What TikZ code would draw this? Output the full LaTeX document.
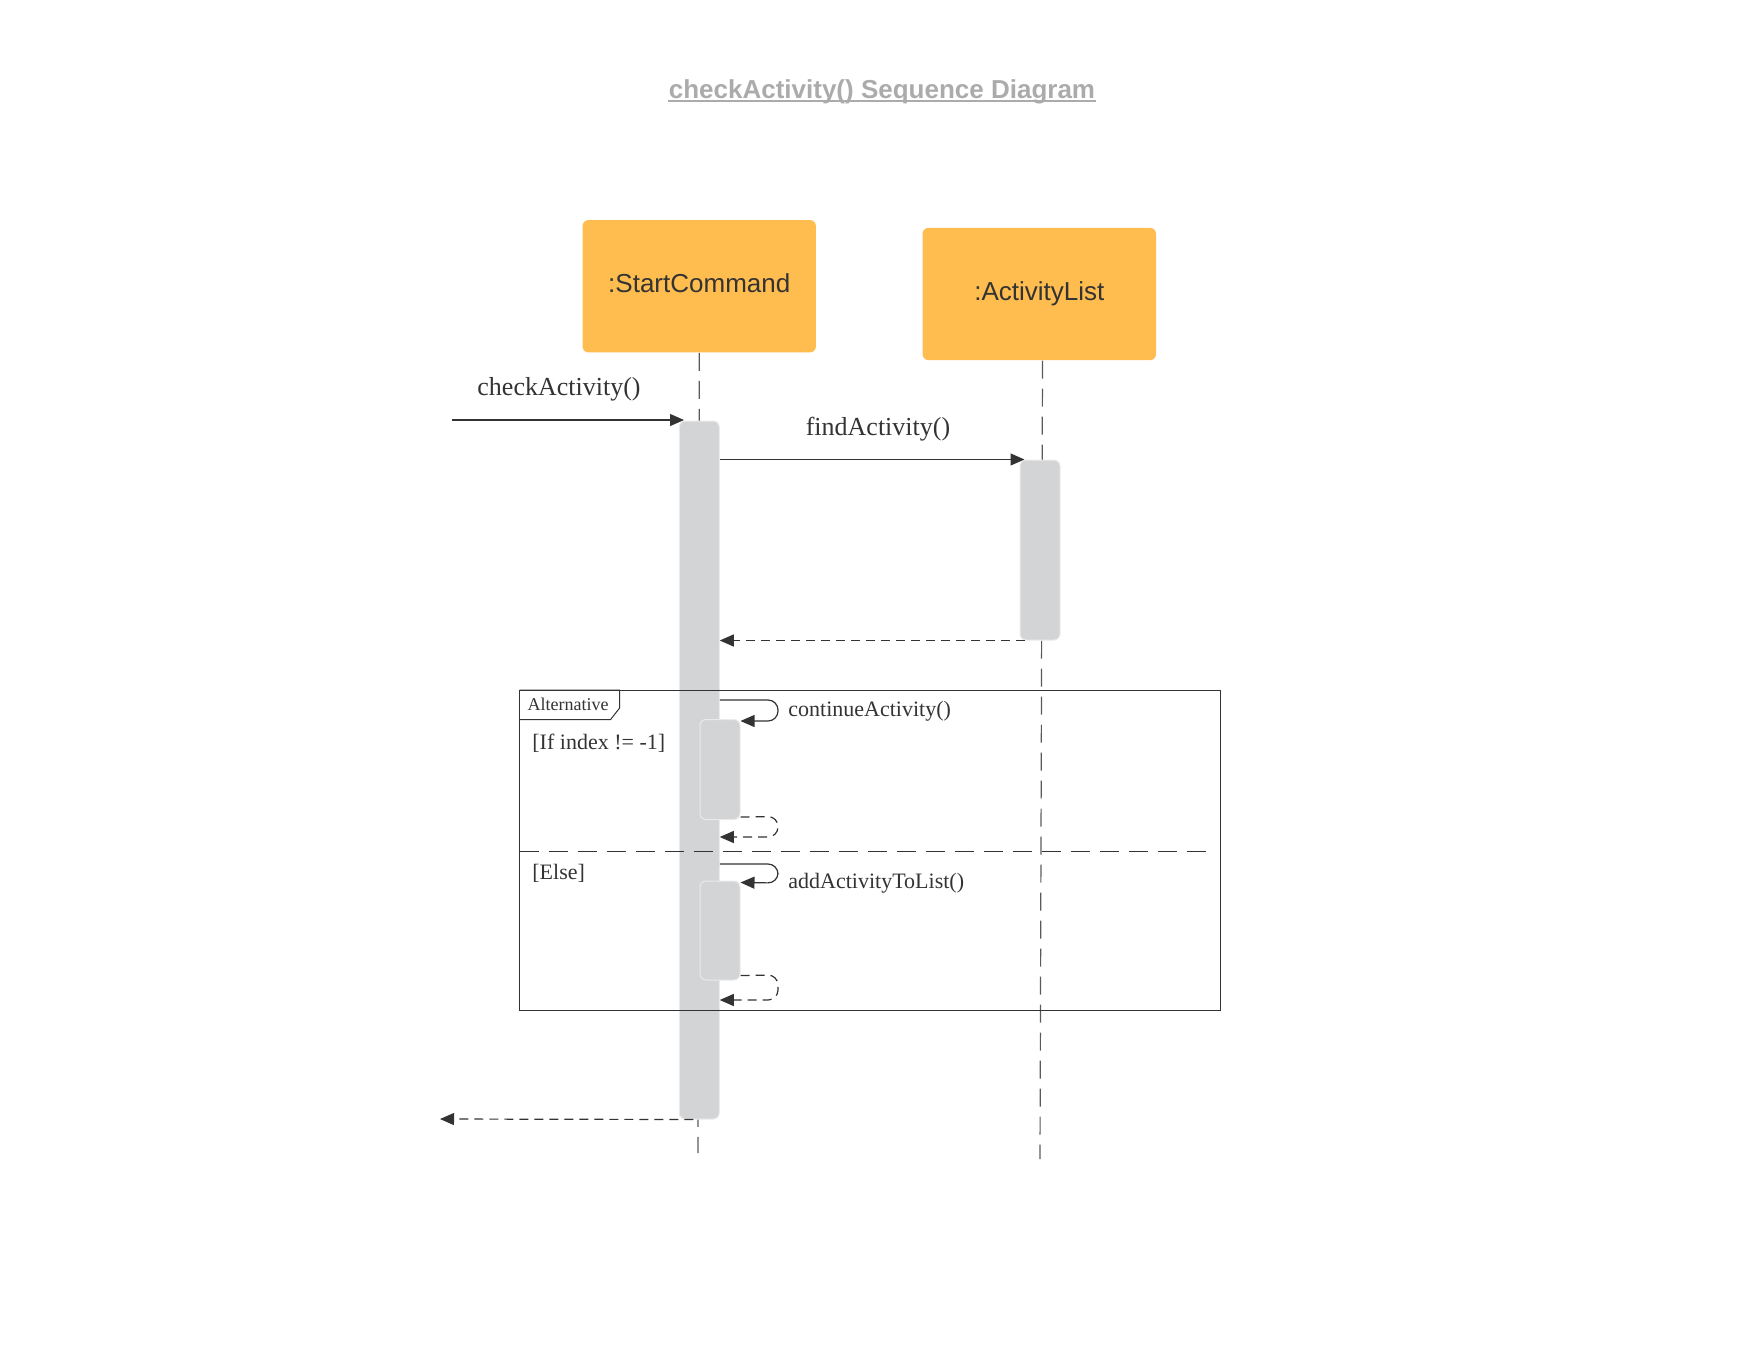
\documentclass[tikz,border=0pt]{standalone}
\usepackage{fontspec}
\setmainfont{Liberation Serif}
\setsansfont{Liberation Sans}
\usetikzlibrary{arrows.meta,calc}

\definecolor{objfill}{HTML}{FFBC4F}
\definecolor{barfill}{HTML}{D3D4D6}
\definecolor{ink}{HTML}{333333}
\definecolor{lifegray}{HTML}{5A5A5A}
\definecolor{titlegray}{HTML}{ABABAB}

\tikzset{
  objbox/.style={fill=objfill, draw=none, rounded corners=3pt, text=ink,
    font=\sffamily\fontsize{13pt}{15pt}\selectfont,
    minimum width=116.7pt, minimum height=66.2pt, inner sep=0pt},
  actbar/.style={fill=barfill, draw=white!92!black, line width=0.5pt,
    rounded corners=3pt, inner sep=0pt, minimum width=20pt},
  lifeline/.style={draw=lifegray, line width=0.6pt, dash pattern=on 9pt off 5pt},
  msg/.style={draw=ink, line width=0.6pt, -{Triangle[length=7pt,width=6pt]}},
  ret/.style={draw=ink, line width=0.6pt, dash pattern=on 4.5pt off 3pt,
    -{Triangle[length=7pt,width=6pt]}},
  msglabel/.style={text=ink, inner sep=0pt, font=\fontsize{13pt}{15pt}\selectfont},
  smalllabel/.style={text=ink, inner sep=0pt, font=\fontsize{11pt}{13pt}\selectfont},
  frameline/.style={draw=ink, line width=0.5pt},
}

\begin{document}
\begin{tikzpicture}[x=0.5pt, y=-0.5pt]
  \useasboundingbox (0,0) rectangle (1760,1360);

  % title
  \node[text=titlegray, inner sep=0pt,
        font=\sffamily\bfseries\fontsize{13pt}{15pt}\selectfont]
    (title) at (882,91.5) {checkActivity() Sequence Diagram};
  \draw[titlegray, line width=1pt]
    ($(title.base west)+(0,3)$) -- ($(title.base east)+(0,3)$);

  % participants
  \node[objbox] (sc) at (699.25,286.25) {\raisebox{3.5pt}{:StartCommand}};
  \node[objbox] (al) at (1039.3,294) {\raisebox{0.5pt}{:ActivityList}};

  % lifelines
  \coordinate (scend) at (698,1153);
  \coordinate (alend) at (1040,1159);
  \draw[lifeline] (sc.south) -- (scend);
  \draw[lifeline] (al.south -| 1042.5,0) -- (alend);

  % activation bars
  \node[actbar, minimum height=349pt] (main) at (699.25,770) {};
  \node[actbar, minimum height=90pt] (alb) at (1040,550) {};
  \node[actbar, minimum height=50pt] (b1) at (720,769.5) {};
  \node[actbar, minimum height=49.5pt] (b2) at (720,930.5) {};

  % incoming call
  \coordinate (caller) at (452,420);
  \draw[msg] (caller) -- (caller -| 684,0);
  \node[msglabel] (lcheck) at (559,389.5) {checkActivity()};

  % call to the list
  \draw[msg] (main.east |- alb.north) -- ($(alb.north west)+(5,0)$);
  \node[msglabel] (lfind) at (878,429.5) {findActivity()};

  % reply from the list
  \draw[ret] ($(alb.south west)+(5,0)$) -- (main.east |- alb.south);

  % alternative fragment
  \coordinate (fnw) at (519.7,690);
  \coordinate (fse) at (1220,1010);
  \draw[frameline] (fnw) rectangle (fse);
  \draw[frameline] (fnw) -- (619.6,690) -- (619.6,708) -- (610.6,719.5) -- (519.7,719.5);
  \node[text=ink, inner sep=0pt, font=\fontsize{9pt}{11pt}\selectfont]
    (lalt) at (568,704) {Alternative};
  \draw[ink, line width=0.5pt, dash pattern=on 9.5pt off 5pt] (519.7,851) -- (1206,851);
  \node[smalllabel, anchor=west] (gif) at (532,743) {[If index != -1]};
  \node[smalllabel, anchor=west] (gelse) at (532,873) {[Else]};

  % first branch: self call and its reply
  \draw[msg, rounded corners=5pt]
    (main.east |- 0,700) -- (778,700) -- (778,721) -- ($(b1.north east)+(0,2)$);
  \node[smalllabel, anchor=west] (lcont) at (788,711) {continueActivity()};
  \draw[ret, rounded corners=5pt]
    ($(b1.south east)+(0,-3)$) -- (778,816.5) -- (778,837) -- (main.east |- 0,837);

  % second branch: self call and its reply
  \draw[msg, rounded corners=5pt]
    (main.east |- 0,864) -- (778,864) -- (778,883) -- ($(b2.north east)+(0,2)$);
  \node[smalllabel, anchor=west] (ladd) at (788,883) {addActivityToList()};
  \draw[ret, rounded corners=5pt]
    ($(b2.south east)+(0,-5)$) -- (778,975) -- (778,1000) -- (main.east |- 0,1000);

  % final reply
  \coordinate (back) at (440,1119);
  \draw[ret] ($(main.south)+(-6,0)$) -- (back);
\end{tikzpicture}
\end{document}
